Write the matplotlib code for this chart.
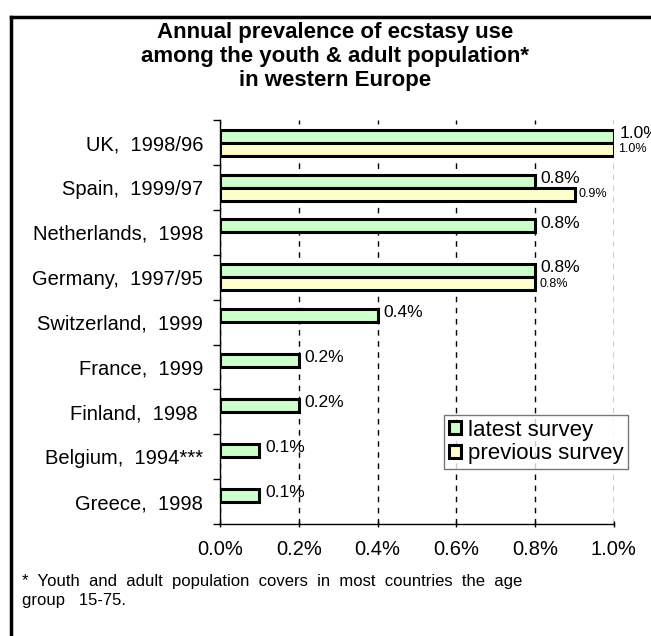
import matplotlib
matplotlib.use('Agg')
import matplotlib.pyplot as plt
import matplotlib.ticker as plticker
from matplotlib.lines import Line2D
import numpy as np

plt.rcParams['font.family'] = ['Liberation Sans', 'DejaVu Sans']

# ------------------------------------------------------------------
# - data (annual prevalence, % of population)
countries = ['UK,  1998/96', 'Spain,  1999/97', 'Netherlands,  1998',
             'Germany,  1997/95', 'Switzerland,  1999', 'France,  1999',
             'Finland,  1998 ', 'Belgium,  1994***', 'Greece,  1998']
latest = [1.0, 0.8, 0.8, 0.8, 0.4, 0.2, 0.2, 0.1, 0.1]
previous = [1.0, 0.9, None, 0.8, None, None, None, None, None]
xticks = [0.0, 0.2, 0.4, 0.6, 0.8, 1.0]

green = '#CCFFCC'
yellow = '#FFFFCC'

# ------------------------------------------------------------------
# - figure and plotting area
fig = plt.figure(figsize=(6.51, 6.36), dpi=100)
ax = fig.add_axes([0.338, 0.176, 0.605, 0.635])

n = len(countries)
y = np.arange(n)
h = 0.29

ax.barh(y - h / 2, latest, height=h, color=green, edgecolor='black',
        linewidth=2.2, zorder=3, label='latest survey')
prev_y = [yy + h / 2 for yy, v in zip(y, previous) if v is not None]
prev_v = [v for v in previous if v is not None]
ax.barh(prev_y, prev_v, height=h, color=yellow, edgecolor='black',
        linewidth=2.2, zorder=3, label='previous survey')

# - value labels
for yy, v in zip(y, latest):
    ax.annotate('%.1f%%' % v, (v, yy - h / 2), xytext=(4, 2),
                textcoords='offset points', va='center', ha='left',
                fontsize=12.5, annotation_clip=False)
for yy, v in zip(prev_y, prev_v):
    ax.annotate('%.1f%%' % v, (v, yy), xytext=(3, 0),
                textcoords='offset points', va='center', ha='left',
                fontsize=9, annotation_clip=False)

# - axes
ax.set_xlim(0, 1.0)
ax.set_ylim(n - 0.5, -0.5)
ax.set_xticks(xticks)
ax.set_xticklabels(['%.1f%%' % t for t in xticks], fontsize=14.5)
ax.grid(axis='x', color='black', linestyle=(0, (4, 4)), linewidth=1, zorder=0)

ax.set_yticks(y)
ax.set_yticklabels(countries, fontsize=14.5)
ax.yaxis.set_minor_locator(plticker.FixedLocator(np.arange(n + 1) - 0.5))
ax.tick_params(axis='y', which='major', length=0, pad=12)
ax.tick_params(axis='y', which='minor', length=5, width=1, direction='out')
ax.tick_params(axis='x', length=5, width=1, direction='inout', pad=9)

for side in ['top', 'right']:
    ax.spines[side].set_visible(False)
ax.spines['left'].set_linewidth(1)
ax.spines['bottom'].set_linewidth(1)

# - legend
leg = ax.legend(loc='lower right', bbox_to_anchor=(1.035, 0.137), fontsize=16,
                frameon=True, fancybox=False, edgecolor='#555555',
                handlelength=0.55, handleheight=0.55, handletextpad=0.3,
                borderpad=0.2, labelspacing=0.12, borderaxespad=0)
leg.get_frame().set_linewidth(1)
leg.set_zorder(5)

# - title and footnote
fig.text(0.515, 0.966, 'Annual prevalence of ecstasy use\namong the youth & adult population*\nin western Europe',
         ha='center', va='top', fontsize=16, fontweight='bold', linespacing=1.2)
fig.text(0.034, 0.098, '*  Youth  and  adult  population  covers  in  most  countries  the  age\ngroup   15-75.',
         ha='left', va='top', fontsize=12, linespacing=1.35)

# - outer frame lines
fig.add_artist(Line2D([0.017, 1.0], [0.974, 0.974], color='black', linewidth=2.5,
                      transform=fig.transFigure))
fig.add_artist(Line2D([0.017, 0.017], [0.0, 0.974], color='black', linewidth=2.5,
                      transform=fig.transFigure))

fig.savefig('out.png', dpi=100)
